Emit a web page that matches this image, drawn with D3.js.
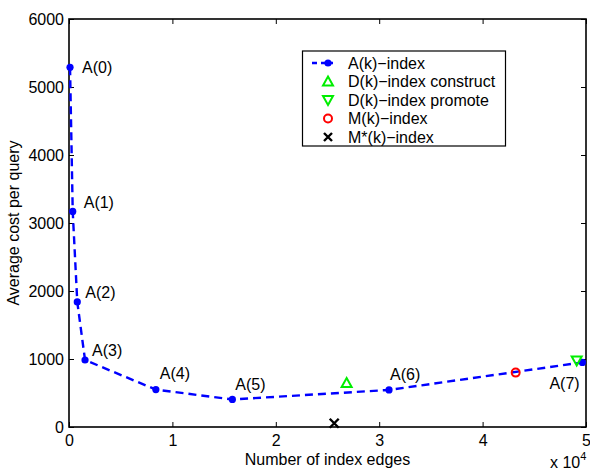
<!DOCTYPE html>
<html>
<head>
<meta charset="utf-8">
<script src="https://cdn.jsdelivr.net/npm/d3@7"></script>
<style>
  body { margin: 0; background: #fff; }
  svg { display: block; font-family: "Liberation Sans", Arial, Helvetica, sans-serif; }
  text { fill: #000; }
</style>
</head>
<body>
<svg id="chart" width="590" height="470"></svg>
<script>
// A(k)-index curve: index edges vs. average cost per query
const aLabels = ["A(0)", "A(1)", "A(2)", "A(3)", "A(4)", "A(5)", "A(6)", "A(7)"];
const aEdges  = [100, 360, 800, 1550, 8400, 15800, 30950, 49650];
const aCost   = [5290, 3170, 1840, 985, 550, 405, 545, 950];

// Single-point indices
const dConstruct = { edges: 26850, cost: 640 };
const dPromote   = { edges: 49100, cost: 985 };
const mIndex     = { edges: 43200, cost: 800 };
const mStarIndex = { edges: 25650, cost: 55 };

const xTicks = [0, 1, 2, 3, 4, 5];              // in units of 10^4
const yTicks = [0, 1000, 2000, 3000, 4000, 5000, 6000];

const legendNames = ["A(k)\u2212index", "D(k)\u2212index construct", "D(k)\u2212index promote",
                     "M(k)\u2212index", "M*(k)\u2212index"];

// Label placement relative to each A(k) point (pixels)
const labelOffsets = [[12, 0], [11, -9], [8, -9], [7, -10], [4, -16], [3, -15], [1, -16], [-33, 21]];

const svg = d3.select("#chart");
const L = 69, R = 586, T = 19, B = 427;

const x = d3.scaleLinear().domain([0, 5e4]).range([L, R]);
const y = d3.scaleLinear().domain([0, 6000]).range([B, T]);

const fontSize = 16;
const tickLen = 5;

// Axes (MATLAB-style inward ticks, boxed)
const xAxis = d3.axisBottom(x).tickValues(xTicks.map(d => d * 1e4)).tickFormat((d, i) => xTicks[i])
  .tickSizeInner(-tickLen).tickSizeOuter(0).tickPadding(8);
const yAxis = d3.axisLeft(y).tickValues(yTicks).tickFormat(d3.format("d"))
  .tickSizeInner(-tickLen).tickSizeOuter(0).tickPadding(5);
const xTop = d3.axisTop(x).tickValues(xTicks.map(d => d * 1e4)).tickFormat("")
  .tickSizeInner(-tickLen).tickSizeOuter(0);
const yRight = d3.axisRight(y).tickValues(yTicks).tickFormat("")
  .tickSizeInner(-tickLen).tickSizeOuter(0);

function styleAxis(g) {
  g.selectAll("path").remove();
  g.selectAll("line").attr("stroke", "#000").attr("stroke-width", 1);
  g.selectAll("text").attr("font-size", fontSize).attr("font-family", null).attr("fill", "#000");
}

svg.append("g").attr("transform", `translate(0,${B})`).call(xAxis).call(styleAxis);
svg.append("g").attr("transform", `translate(${L},0)`).call(yAxis).call(styleAxis);
svg.append("g").attr("transform", `translate(0,${T})`).call(xTop).call(styleAxis);
svg.append("g").attr("transform", `translate(${R},0)`).call(yRight).call(styleAxis);

// Box
svg.append("rect").attr("x", L).attr("y", T).attr("width", R - L).attr("height", B - T)
  .attr("fill", "none").attr("stroke", "#000").attr("stroke-width", 1.6);

// Axis titles
svg.append("text").attr("x", (L + R) / 2).attr("y", 465).attr("text-anchor", "middle")
  .attr("font-size", fontSize).text("Number of index edges");
svg.append("text").attr("transform", `translate(19,${(T + B) / 2}) rotate(-90)`)
  .attr("text-anchor", "middle").attr("font-size", fontSize).text("Average cost per query");

// Exponent label
const ex = svg.append("text").attr("x", 550).attr("y", 468).attr("font-size", fontSize);
ex.append("tspan").text("x 10");
ex.append("tspan").attr("dy", -8).attr("font-size", 11).text("4");

// A(k) line and points
const blue = "#0000ff";
const aData = aEdges.map((e, i) => ({ e, c: aCost[i], label: aLabels[i] }));
svg.append("path").datum(aData)
  .attr("d", d3.line().x(d => x(d.e)).y(d => y(d.c)))
  .attr("fill", "none").attr("stroke", blue).attr("stroke-width", 2.4)
  .attr("stroke-dasharray", "8,5");
svg.selectAll("circle.a").data(aData).join("circle").attr("class", "a")
  .attr("cx", d => x(d.e)).attr("cy", d => y(d.c)).attr("r", 3.6).attr("fill", blue);
svg.selectAll("text.alab").data(aData).join("text").attr("class", "alab")
  .attr("x", (d, i) => x(d.e) + labelOffsets[i][0])
  .attr("y", (d, i) => y(d.c) + labelOffsets[i][1])
  .attr("dy", "0.35em").attr("font-size", fontSize).text(d => d.label);

// Marker drawers
const green = "#00ee00", red = "#ff0000";
function triUp(g, cx, cy) {
  g.append("path").attr("d", `M${cx},${cy - 5.5}L${cx + 5},${cy + 3.5}L${cx - 5},${cy + 3.5}Z`)
    .attr("fill", "none").attr("stroke", green).attr("stroke-width", 2);
}
function triDown(g, cx, cy) {
  g.append("path").attr("d", `M${cx},${cy + 5.5}L${cx + 5},${cy - 3.5}L${cx - 5},${cy - 3.5}Z`)
    .attr("fill", "none").attr("stroke", green).attr("stroke-width", 2);
}
function circ(g, cx, cy) {
  g.append("circle").attr("cx", cx).attr("cy", cy).attr("r", 4)
    .attr("fill", "none").attr("stroke", red).attr("stroke-width", 2);
}
function cross(g, cx, cy, h) {
  g.append("path").attr("d", `M${cx - h},${cy - h}L${cx + h},${cy + h}M${cx - h},${cy + h}L${cx + h},${cy - h}`)
    .attr("stroke", "#000").attr("stroke-width", 2.4);
}

const marks = svg.append("g");
triUp(marks, x(dConstruct.edges), y(dConstruct.cost));
triDown(marks, x(dPromote.edges), y(dPromote.cost));
circ(marks, x(mIndex.edges), y(mIndex.cost));
cross(marks, x(mStarIndex.edges), y(mStarIndex.cost), 4.5);

// Legend
const lg = svg.append("g");
lg.append("rect").attr("x", 302.5).attr("y", 51).attr("width", 203).attr("height", 95)
  .attr("fill", "#fff").attr("stroke", "#000").attr("stroke-width", 1.2);
const rowY = i => 63 + i * 18.5;
const mx = 328;
lg.append("line").attr("x1", 312).attr("x2", 333).attr("y1", rowY(0)).attr("y2", rowY(0))
  .attr("stroke", blue).attr("stroke-width", 2.4).attr("stroke-dasharray", "5,4");
lg.append("circle").attr("cx", mx).attr("cy", rowY(0)).attr("r", 3.6).attr("fill", blue);
triUp(lg, mx, rowY(1) + 0.5);
triDown(lg, mx, rowY(2) - 0.5);
circ(lg, mx, rowY(3));
cross(lg, mx, rowY(4), 4);
lg.selectAll("text").data(legendNames).join("text")
  .attr("x", 348).attr("y", (d, i) => rowY(i)).attr("dy", "0.35em")
  .attr("font-size", fontSize).text(d => d);
</script>
</body>
</html>
